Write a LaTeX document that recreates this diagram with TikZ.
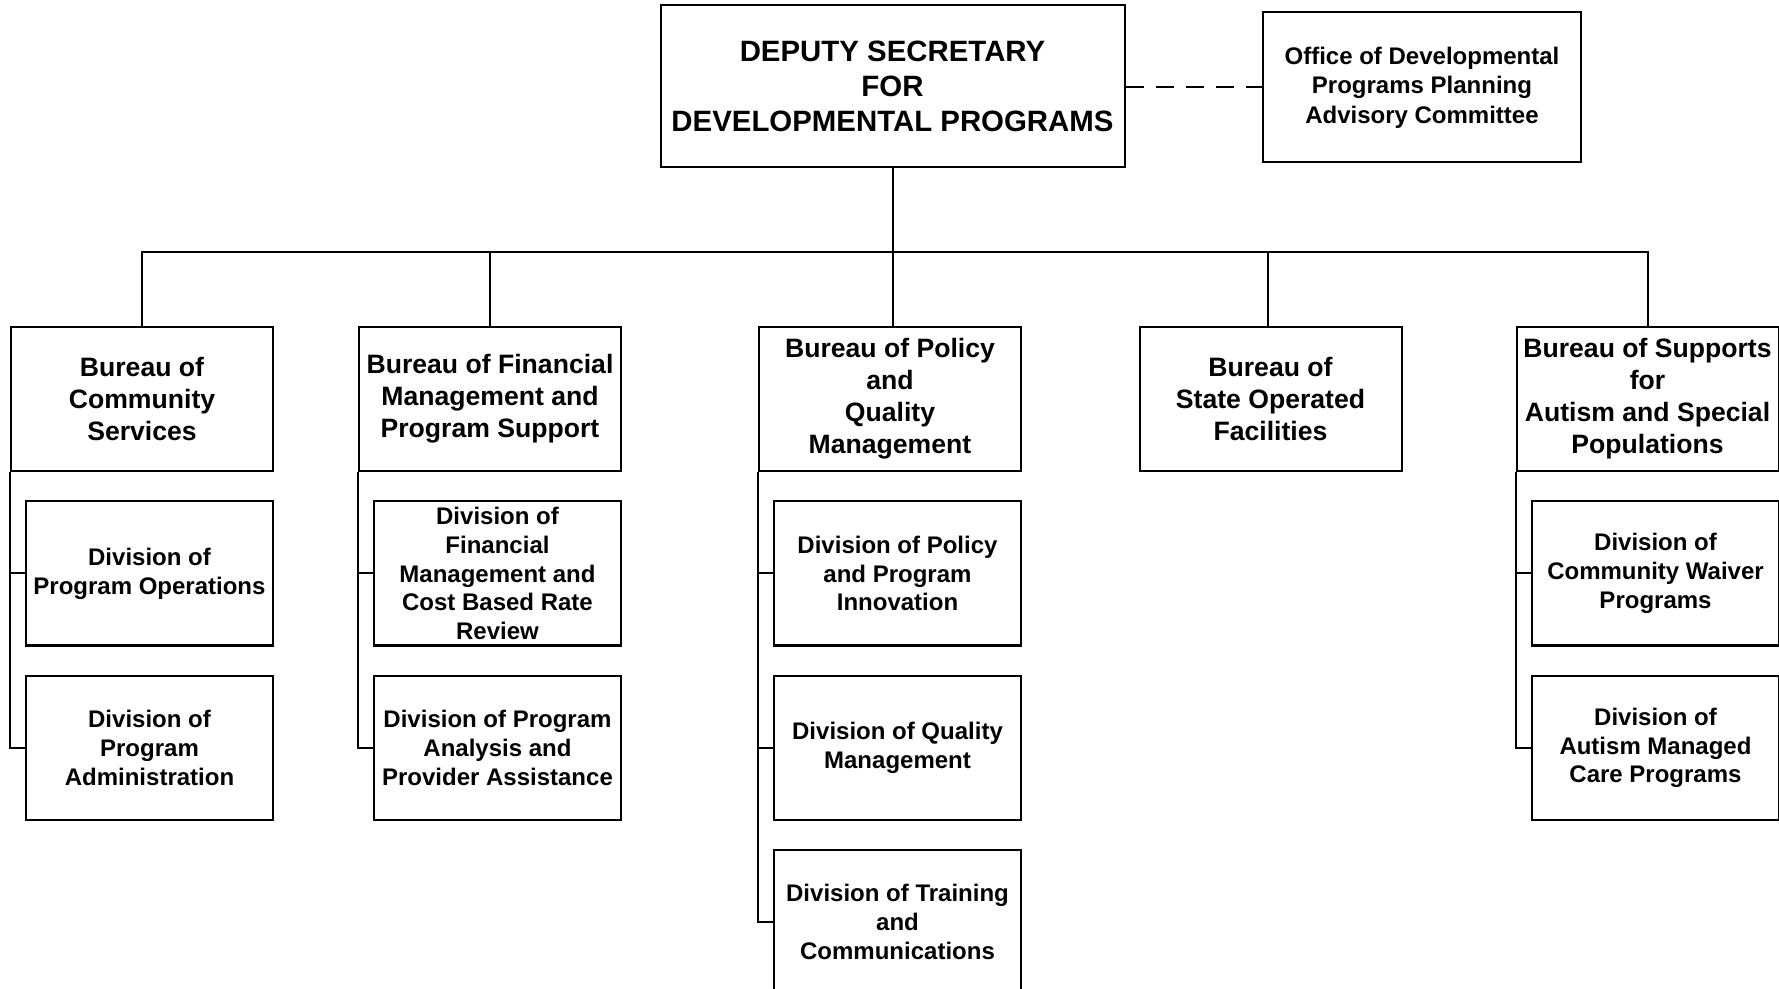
\documentclass[tikz,border=0pt]{standalone}
\usepackage{fontspec}
\setmainfont{Liberation Sans}
\tikzset{
  unit/.style={draw, line width=1pt, align=center, inner sep=0pt, font=\bfseries},
  topbox/.style={unit, minimum width=232pt, minimum height=81pt, font=\bfseries\fontsize{14.7}{17.6}\selectfont},
  advbox/.style={unit, minimum width=159pt, minimum height=75pt, font=\bfseries\fontsize{12}{14.7}\selectfont},
  bureau/.style={unit, minimum width=131pt, minimum height=72pt, font=\bfseries\fontsize{13.3}{16}\selectfont},
  division/.style={unit, minimum width=123.5pt, minimum height=72pt, font=\bfseries\fontsize{12}{14.4}\selectfont},
  link/.style={line width=1pt}
}
\begin{document}
\begin{tikzpicture}[x=0.5pt, y=-0.5pt]
    \useasboundingbox (0,0) rectangle (1779,989);

    % top level
    \node[topbox] (dep) at (892.5,86.5) {DEPUTY SECRETARY\\FOR\\DEVELOPMENTAL PROGRAMS};
    \node[advbox] (adv) at (1422,87.5) {Office of Developmental\\Programs Planning\\Advisory Committee};

    % bureaus
    \node[bureau] (bcs) at (142,399) {Bureau of\\Community\\Services};
    \node[bureau] (bfm) at (490,399) {Bureau of Financial\\Management and\\Program Support};
    \node[bureau] (bpq) at (890,399) {Bureau of Policy\\and\\Quality\\Management};
    \node[bureau] (bso) at (1270.5,399) {Bureau of\\State Operated\\Facilities};
    \node[bureau] (bsa) at (1647.5,399) {Bureau of Supports\\for\\Autism and Special\\Populations};

    % divisions
    \node[division] (dpo) at (149.5,573.5) {Division of\\Program Operations};
    \node[division] (dpa) at (149.5,748) {Division of\\Program\\Administration};
    \node[division] (dfm) at (497.5,573.5) {Division of\\Financial\\Management and\\Cost Based Rate\\Review};
    \node[division] (dpp) at (497.5,748) {Division of Program\\Analysis and\\Provider Assistance};
    \node[division] (dpi) at (897.5,573.5) {Division of Policy\\and Program\\Innovation};
    \node[division] (dqm) at (897.5,748) {Division of Quality\\Management};
    \node[division] (dtc) at (897.5,922) {Division of Training\\and\\Communications};
    \node[division] (dcw) at (1655.5,573.5) {Division of\\Community Waiver\\Programs};
    \node[division] (dam) at (1655.5,748) {Division of\\Autism Managed\\Care Programs};

    % connectors
    \draw[link, dash pattern=on 9pt off 6pt] (dep.east |- adv.west) -- (adv.west);
    \draw[link] (dep.south) -- (dep.south |- bpq.north);
    \draw[link] (bcs.north) -- (bcs.north |- 0,252) -| (bsa.north);
    \draw[link] (bfm.north) -- (bfm.north |- 0,252);
    \draw[link] ([xshift=-1.5pt]bso.north) -- ([xshift=-1.5pt]bso.north |- 0,252);

    \draw[link] (bcs.south west) |- (dpa.west);
    \draw[link] (bcs.south west |- dpo.west) -- (dpo.west);
    \draw[link] (bfm.south west) |- (dpp.west);
    \draw[link] (bfm.south west |- dfm.west) -- (dfm.west);
    \draw[link] (bpq.south west) |- (dtc.west);
    \draw[link] (bpq.south west |- dpi.west) -- (dpi.west);
    \draw[link] (bpq.south west |- dqm.west) -- (dqm.west);
    \draw[link] (bsa.south west) |- (dam.west);
    \draw[link] (bsa.south west |- dcw.west) -- (dcw.west);
\end{tikzpicture}
\end{document}
